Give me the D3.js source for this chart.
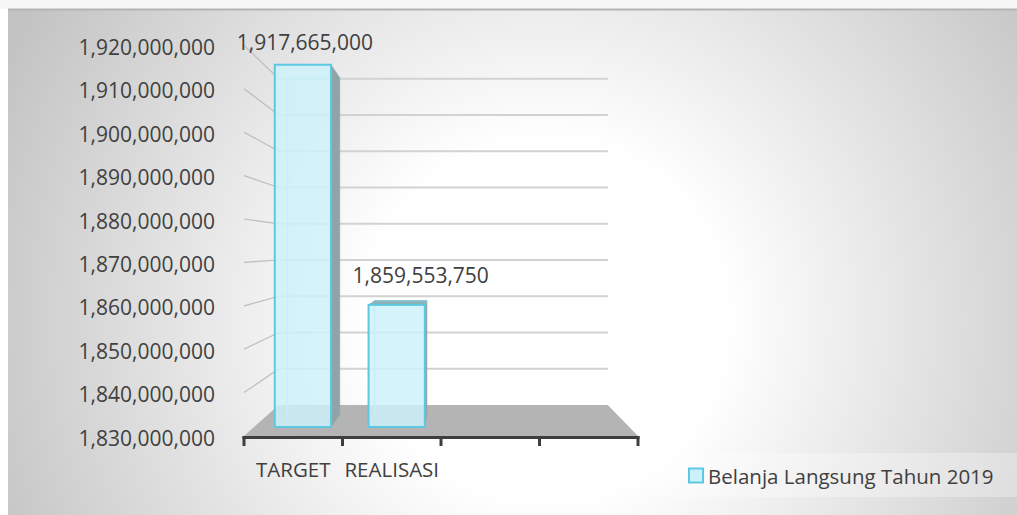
<!DOCTYPE html>
<html>
<head>
<meta charset="utf-8">
<script src="https://cdn.jsdelivr.net/npm/d3@7"></script>
<style>
  html, body { margin: 0; padding: 0; background: #ffffff; }
  svg { display: block; }
  text { font-family: "Open Sans", sans-serif; fill: #404040; }
</style>
</head>
<body>
<svg id="chart" width="1017" height="515"></svg>
<script>
// ---- data ----
const categories = ["TARGET", "REALISASI", "", ""];
const values = [1917665000, 1859553750, null, null];
const yTicks = [1830000000, 1840000000, 1850000000, 1860000000, 1870000000,
                1880000000, 1890000000, 1900000000, 1910000000, 1920000000];
const seriesName = "Belanja Langsung Tahun 2019";

// ---- layout ----
const W = 1017, H = 515;
const VX = 455, VY = 248, DEPTH = 0.165;
const barZ = [0.29, 0.70];
const labelOffsets = [[2, -23], [24, -30]];

const svg = d3.select("#chart");
const defs = svg.append("defs");
const grad = defs.append("radialGradient").attr("id", "bg")
  .attr("gradientUnits", "userSpaceOnUse")
  .attr("cx", 545).attr("cy", 320).attr("r", 600);
grad.append("stop").attr("offset", 0).attr("stop-color", "#ffffff");
grad.append("stop").attr("offset", 0.3).attr("stop-color", "#ffffff");
grad.append("stop").attr("offset", 1).attr("stop-color", "#c3c3c3");

svg.append("rect").attr("x", 0).attr("y", 0).attr("width", W).attr("height", 9).attr("fill", "#f7f7f7");
svg.append("rect").attr("x", 8).attr("y", 9).attr("width", W - 8).attr("height", H - 9).attr("fill", "url(#bg)");
svg.append("line").attr("x1", 8).attr("x2", W).attr("y1", 9.5).attr("y2", 9.5)
  .attr("stroke", "#b3b3b3").attr("stroke-width", 2);

const x = d3.scaleBand().domain(d3.range(categories.length)).range([244, 638]);
const y = d3.scaleLinear().domain([yTicks[0], yTicks[yTicks.length - 1]]).range([436, 45.4]);
const bw = x.bandwidth();

function proj(X, Y, z) {
  const s = 1 - DEPTH * z;
  return [VX + s * (X - VX), VY + s * (Y - VY)];
}
const line = d3.line();

const X0 = x.range()[0], X1 = x.range()[1], Ybase = y(yTicks[0]);

// left wall lines
const g = svg.append("g");
yTicks.slice(1).forEach(t => {
  g.append("path").attr("d", line([proj(X0, y(t), 0), proj(X0, y(t), 1)]))
    .attr("stroke", "#bcbcbc").attr("stroke-width", 1.2).attr("fill", "none");
});
// back wall gridlines
yTicks.slice(1).forEach(t => {
  g.append("path").attr("d", line([proj(X0, y(t), 1), proj(X1, y(t), 1)]))
    .attr("stroke", "#d2d2d2").attr("stroke-width", 2).attr("fill", "none");
});
// floor
g.append("path").attr("d", line([proj(X0, Ybase, 0), proj(X1, Ybase, 0), proj(X1, Ybase, 1), proj(X0, Ybase, 1)]) + "Z")
  .attr("fill", "#b4b4b4");

// bars
const bars = svg.append("g");
values.forEach((v, i) => {
  if (v == null) return;
  const bx0 = x(i) + bw * 0.2 + 2, bx1 = bx0 + bw * 0.6;
  const yt = y(v), yb = Ybase;
  const [zf, zb] = barZ;
  // back edges seen through
  bars.append("path").attr("d", line([proj(bx0, yb, zb), proj(bx0, yt, zb), proj(bx1, yt, zb)]))
    .attr("stroke", "#a9e2f0").attr("stroke-width", 1.5).attr("fill", "none");
  // right side face
  if (bx1 < VX) {
    bars.append("path").attr("d", line([proj(bx1, yt, zf), proj(bx1, yt, zb), proj(bx1, yb, zb), proj(bx1, yb, zf)]) + "Z")
      .attr("fill", "#8ea5a8").attr("stroke", "#8ea5a8").attr("stroke-width", 0.5);
  }
  // top face (visible when below the eye)
  if (yt > VY) {
    bars.append("path").attr("d", line([proj(bx0, yt, zf), proj(bx1, yt, zf), proj(bx1, yt, zb), proj(bx0, yt, zb)]) + "Z")
      .attr("fill", "#8db3b9").attr("stroke", "#7fc3d3").attr("stroke-width", 1);
  }
  // front face
  const a = proj(bx0, yt, zf), b = proj(bx1, yb, zf);
  bars.append("rect").attr("x", a[0]).attr("y", a[1]).attr("width", b[0] - a[0]).attr("height", b[1] - a[1])
    .attr("fill", "rgb(204,241,251)").attr("fill-opacity", 0.82)
    .attr("stroke", "#5cc8e1").attr("stroke-width", 2);
  // data label
  const c = proj((bx0 + bx1) / 2, yt, zf);
  svg.append("text").attr("x", c[0] + labelOffsets[i][0]).attr("y", c[1] + labelOffsets[i][1])
    .attr("text-anchor", "middle").attr("dominant-baseline", "central")
    .style("font-size", "21px").text(d3.format(",")(v));
});

// category axis line and ticks
const ax = svg.append("g");
ax.append("line").attr("x1", X0 - 1.5).attr("x2", X1 + 1.5).attr("y1", 437.5).attr("y2", 437.5)
  .attr("stroke", "#3e3e3e").attr("stroke-width", 3);
d3.range(categories.length + 1).forEach(k => {
  const tx = X0 + k * bw;
  ax.append("line").attr("x1", tx).attr("x2", tx).attr("y1", 436).attr("y2", 446)
    .attr("stroke", "#3e3e3e").attr("stroke-width", 3);
});
const xAxis = d3.axisBottom(x).tickSize(0).tickPadding(0).tickFormat(i => categories[i]);
const xg = svg.append("g").attr("transform", "translate(0,469)").call(xAxis);
xg.select(".domain").remove();
xg.selectAll("text").attr("dy", null).attr("dominant-baseline", "central")
  .style("font-size", "20.5px").style("font-family", "'Open Sans', sans-serif").attr("fill", "#404040");

// y axis labels
const yAxis = d3.axisLeft(y).tickValues(yTicks).tickFormat(d3.format(",")).tickSize(0).tickPadding(29);
const yg = svg.append("g").attr("transform", `translate(${X0},1)`).call(yAxis);
yg.select(".domain").remove();
yg.selectAll("text").attr("dy", null).attr("dominant-baseline", "central")
  .style("font-size", "21px").style("font-family", "'Open Sans', sans-serif").attr("fill", "#404040");

// legend
const lg = svg.append("g");
lg.append("rect").attr("x", 655).attr("y", 453).attr("width", W - 655).attr("height", 44)
  .attr("fill", "#ffffff").attr("fill-opacity", 0.3);
lg.append("rect").attr("x", 689).attr("y", 468.5).attr("width", 14).attr("height", 14)
  .attr("fill", "rgb(204,241,251)").attr("stroke", "#5cc8e1").attr("stroke-width", 2);
lg.append("text").attr("x", 708).attr("y", 475.5).attr("dominant-baseline", "central")
  .style("font-size", "20.5px").text(seriesName);
</script>
</body>
</html>
